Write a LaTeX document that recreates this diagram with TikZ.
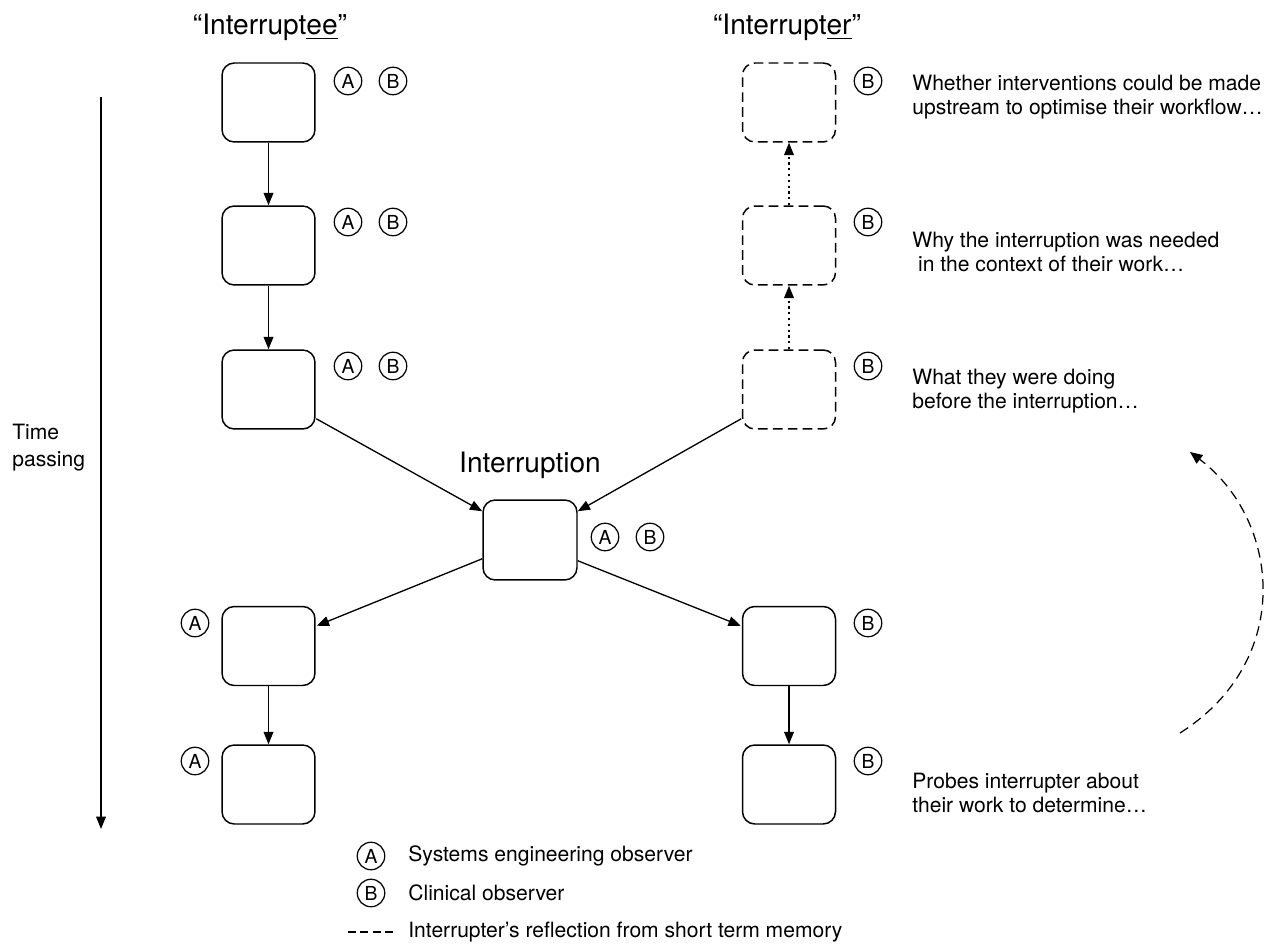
\documentclass[tikz,border=0pt]{standalone}
\usepackage{fontspec}
\setmainfont{TeX Gyre Heros}
\usetikzlibrary{arrows.meta}
\begin{document}
\begin{tikzpicture}[x=0.02cm,y=-0.02cm,
  stepbox/.style={draw, line width=0.85pt, rounded corners=7pt, minimum width=1.86cm, minimum height=1.58cm, inner sep=0pt},
  dashbox/.style={stepbox, dash pattern=on 5.5pt off 3pt},
  obs/.style={draw, circle, line width=0.7pt, minimum size=0.55cm, inner sep=0pt, font=\fontsize{11}{11}\selectfont},
  head/.style={font=\fontsize{16}{18}\selectfont, anchor=base},
  body/.style={font=\fontsize{12}{13.5}\selectfont, align=left, anchor=west, inner sep=0pt},
  flow/.style={line width=0.75pt, -{Triangle[length=7pt,width=5.5pt]}},
  dotflow/.style={flow, dash pattern=on 1.3pt off 2pt},
  ]
\useasboundingbox (0,0) rectangle (1270,945);

% headers
\node[head] (h1) at (270,35) {“Interrupt\underline{ee}”};
\node[head] (h2) at (787,35) {“Interrupt\underline{er}”};
\node[head] (h3) at (530,472) {Interruption};

% time axis
\node[body, anchor=north west, font=\fontsize{12}{15}\selectfont] (time) at (12,424) {Time\\passing};
\coordinate (t1) at (101,97);
\coordinate (t2) at (101,829);
\draw[flow] (t1) -- (t2);

% left column
\node[stepbox] (L1) at (268.5,102.5) {};
\node[stepbox] (L2) at (268.5,245.5) {};
\node[stepbox] (L3) at (268.5,389.5) {};
\node[stepbox] (L4) at (268.5,646) {};
\node[stepbox] (L5) at (268.5,784.5) {};
% right column
\node[dashbox] (R1) at (789,102.5) {};
\node[dashbox] (R2) at (789,245.5) {};
\node[dashbox] (R3) at (789,389.5) {};
\node[stepbox] (R4) at (789,646) {};
\node[stepbox] (R5) at (789,784.5) {};
% centre
\node[stepbox, minimum width=1.88cm, minimum height=1.6cm] (C) at (530,540) {};

% observers
\node[obs] (a1) at (348,81) {A};
\node[obs] (b1) at (393,81) {B};
\node[obs] (a2) at (348,222) {A};
\node[obs] (b2) at (393,222) {B};
\node[obs] (a3) at (348,366) {A};
\node[obs] (b3) at (393,366) {B};
\node[obs] (ac) at (605,537) {A};
\node[obs] (bc) at (650,537) {B};
\node[obs] (a4) at (195,623) {A};
\node[obs] (a5) at (195,761) {A};
\node[obs] (rb1) at (868,81) {B};
\node[obs] (rb2) at (868,222) {B};
\node[obs] (rb3) at (868,366) {B};
\node[obs] (rb4) at (868,623) {B};
\node[obs] (rb5) at (868,761) {B};

% connectors
\draw[flow] (L1) -- (L2);
\draw[flow] (L2) -- (L3);
\draw[flow] (L4) -- (L5);
\draw[flow] (R4) -- (R5);
\draw[dotflow] (R3) -- (R2);
\draw[dotflow] (R2) -- (R1);
\draw[flow] ([shift={(0.5,-11)}]L3.south east) -- ([shift={(0,12)}]C.north west);
\draw[flow] ([shift={(-0.5,-11)}]R3.south west) -- ([shift={(0,12)}]C.north east);
\draw[flow] ([shift={(0,-22)}]C.south west) -- ([shift={(1,20)}]L4.north east);
\draw[flow] ([shift={(0,-20)}]C.south east) -- ([shift={(-1,20)}]R4.north west);

% right texts
\node[body] (txt1) at (912,97) {Whether interventions could be made\\upstream to optimise their workflow…};
\node[body] (txt2) at (912,252) {Why the interruption was needed\\\hspace*{3.3pt}in the context of their work…};
\node[body] (txt3) at (912,391) {What they were doing\\before the interruption…};
\node[body] (txt4) at (912,793) {Probes interrupter about\\their work to determine…};

% curved reflection arrow
\coordinate (c1) at (1180,733);
\coordinate (c2) at (1190,452);
\draw[line width=0.7pt, dash pattern=on 5.5pt off 3.5pt, -{Triangle[length=7pt,width=6pt]}]
  (c1) .. controls (1295,660) and (1280,520) .. (c2);

% legend
\node[obs] (la) at (371,856) {A};
\node[body] (lta) at (408,856) {Systems engineering observer};
\node[obs] (lb) at (371,893) {B};
\node[body] (ltb) at (408,893) {Clinical observer};
\coordinate (ld1) at (348,932);
\coordinate (ld2) at (393,932);
\draw[line width=0.7pt, dash pattern=on 4.5pt off 2.6pt] (ld1) -- (ld2);
\node[body] (ltc) at (408,932) {Interrupter’s reflection from short term memory};
\end{tikzpicture}
\end{document}
